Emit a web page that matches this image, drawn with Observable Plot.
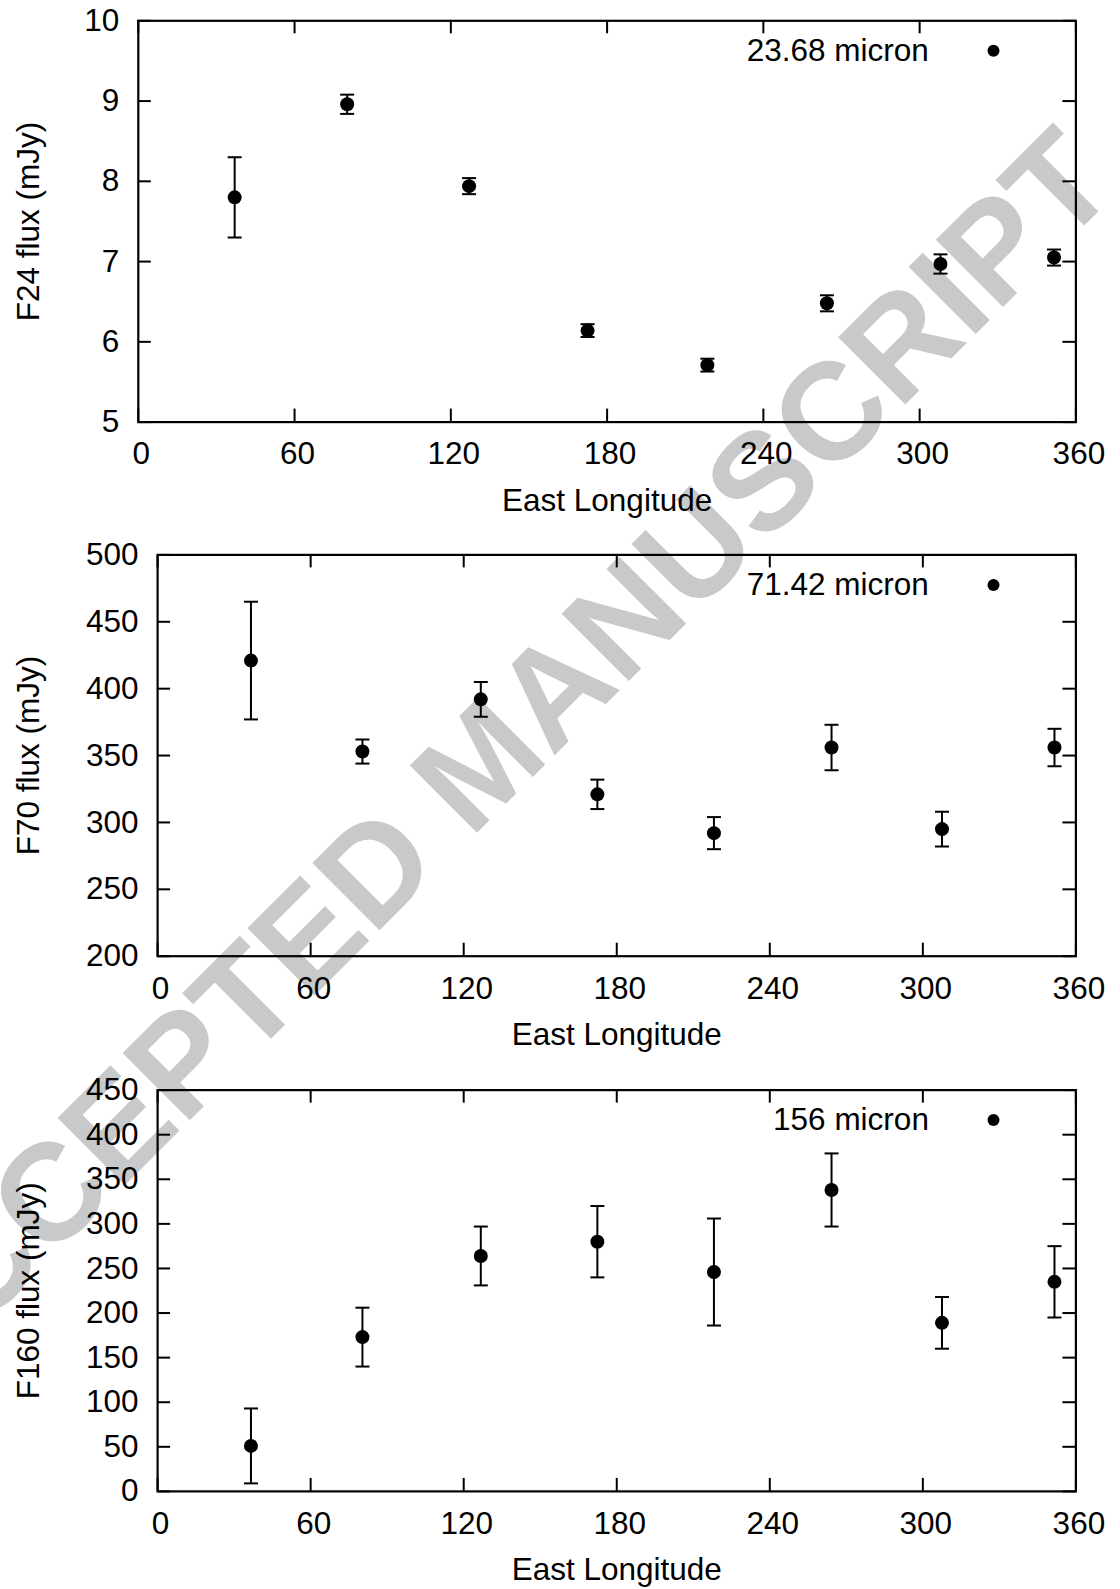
<!DOCTYPE html>
<html><head><meta charset="utf-8">
<script src="https://cdn.jsdelivr.net/npm/d3@7"></script>
<script src="https://cdn.jsdelivr.net/npm/@observablehq/plot@0.6"></script>
<style>
body{margin:0;background:#fff;}
#wrap{position:relative;width:1120px;height:1589px;overflow:hidden;font-family:"Liberation Sans",Arial,Helvetica,sans-serif;background:#fff;}
#wm{position:absolute;left:0;top:0;z-index:0;}
#charts{position:absolute;left:0;top:0;z-index:1;}
#charts svg{display:block;}
</style></head><body>
<div id="wrap">
<svg id="wm" width="1120" height="1589"><text x="480" y="762" transform="rotate(-45 480 762)" text-anchor="middle" dominant-baseline="central" font-family="Liberation Sans, Arial, sans-serif" font-weight="bold" font-size="138" fill="#c8c9cb">ACCEPTED MANUSCRIPT</text></svg>
<div id="charts"></div>
</div>
<script>
// ---- data ----
const longitude24 = [37.0, 80.2, 127.0, 172.5, 218.5, 264.4, 308.0, 351.6];
const flux24 = [7.80, 8.96, 7.94, 6.14, 5.71, 6.48, 6.97, 7.05];
const err24 = [0.50, 0.12, 0.10, 0.08, 0.08, 0.10, 0.12, 0.10];

const longitude70 = [36.6, 80.3, 126.7, 172.4, 218.1, 264.2, 307.5, 351.6];
const flux70 = [421, 353, 392, 321, 292, 356, 295, 356];
const err70 = [44, 9, 13, 11, 12, 17, 13, 14];

const longitude160 = [36.6, 80.3, 126.7, 172.4, 218.1, 264.2, 307.5, 351.6];
const flux160 = [51, 173, 264, 280, 246, 338, 189, 235];
const err160 = [42, 33, 33, 40, 60, 41, 29, 40];

const xTicks = [0, 60, 120, 180, 240, 300, 360];
const yTicks24 = [5, 6, 7, 8, 9, 10];
const yTicks70 = [200, 250, 300, 350, 400, 450, 500];
const yTicks160 = [0, 50, 100, 150, 200, 250, 300, 350, 400, 450];

const legendLabels = ["23.68 micron", "71.42 micron", "156 micron"];
const yLabels = ["F24 flux (mJy)", "F70 flux (mJy)", "F160 flux (mJy)"];
const xLabel = "East Longitude";

// ---- drawing ----
const FONT = "Liberation Sans, Arial, Helvetica, sans-serif";
const FS = 31.5;
const INNER_H = 401.3;
const TICK = 13;
const capSymbol = {draw(ctx, size) { const r = Math.sqrt(size / Math.PI); ctx.moveTo(-r, 0); ctx.lineTo(r, 0); }};

function panel({xs, ys, es, yTicks, yLabel, legend, marginLeft, marginTop, height}) {
  const marginRight = 44.6;
  const marginBottom = height - marginTop - INNER_H;
  const innerW = 1120 - marginLeft - marginRight;
  const data = xs.map((x, i) => ({lon: x, flux: ys[i], lo: ys[i] - es[i], hi: ys[i] + es[i]}));
  const line = {stroke: "#000", strokeWidth: 2};
  return Plot.plot({
    width: 1120, height, marginLeft, marginRight, marginTop, marginBottom,
    style: {background: "transparent", fontFamily: FONT, fontSize: FS + "px", color: "#000", overflow: "visible"},
    x: {domain: [xTicks[0], xTicks[xTicks.length - 1]]},
    y: {domain: [yTicks[0], yTicks[yTicks.length - 1]]},
    marks: [
      Plot.tickX(xTicks, {x: d => d, insetTop: INNER_H - TICK, ...line}),
      Plot.tickX(xTicks, {x: d => d, insetBottom: INNER_H - TICK, ...line}),
      Plot.tickY(yTicks, {y: d => d, insetRight: innerW - TICK, ...line}),
      Plot.tickY(yTicks, {y: d => d, insetLeft: innerW - TICK, ...line}),
      Plot.axisX(xTicks, {tickSize: 0, tickPadding: 20, dx: 3, fontSize: FS, tickFormat: d => String(d), label: null}),
      Plot.axisY(yTicks, {tickSize: 0, tickPadding: 19, fontSize: FS, tickFormat: d => String(d), label: null}),
      Plot.ruleX(data, {x: "lon", y1: "lo", y2: "hi", ...line}),
      Plot.dot(data, {x: "lon", y: "lo", symbol: capSymbol, r: 7, fill: "none", ...line}),
      Plot.dot(data, {x: "lon", y: "hi", symbol: capSymbol, r: 7, fill: "none", ...line}),
      Plot.dot(data, {x: "lon", y: "flux", r: 7, fill: "#000", stroke: "none"}),
      Plot.frame({stroke: "#000", strokeWidth: 2.2}),
      Plot.text([legend], {text: d => d, frameAnchor: "top-right", dx: -147, dy: 30, textAnchor: "end", lineAnchor: "middle", fontSize: FS, fill: "#000"}),
      Plot.dot([legend], {frameAnchor: "top-right", dx: -82.4, dy: 30, r: 6, fill: "#000", stroke: "none"}),
      Plot.text([xLabel], {text: d => d, frameAnchor: "bottom", dy: 78.5, textAnchor: "middle", lineAnchor: "middle", fontSize: FS, fill: "#000"}),
      Plot.text([yLabel], {text: d => d, frameAnchor: "left", dx: 28.4 - marginLeft, rotate: -90, textAnchor: "middle", lineAnchor: "middle", fontSize: FS, fill: "#000"})
    ]
  });
}

const charts = document.getElementById("charts");
charts.append(panel({xs: longitude24, ys: flux24, es: err24, yTicks: yTicks24, yLabel: yLabels[0], legend: legendLabels[0], marginLeft: 137.8, marginTop: 20.3, height: 530}));
charts.append(panel({xs: longitude70, ys: flux70, es: err70, yTicks: yTicks70, yLabel: yLabels[1], legend: legendLabels[1], marginLeft: 157.1, marginTop: 24.4, height: 530}));
charts.append(panel({xs: longitude160, ys: flux160, es: err160, yTicks: yTicks160, yLabel: yLabels[2], legend: legendLabels[2], marginLeft: 157.1, marginTop: 29.6, height: 529}));
</script>
</body></html>
